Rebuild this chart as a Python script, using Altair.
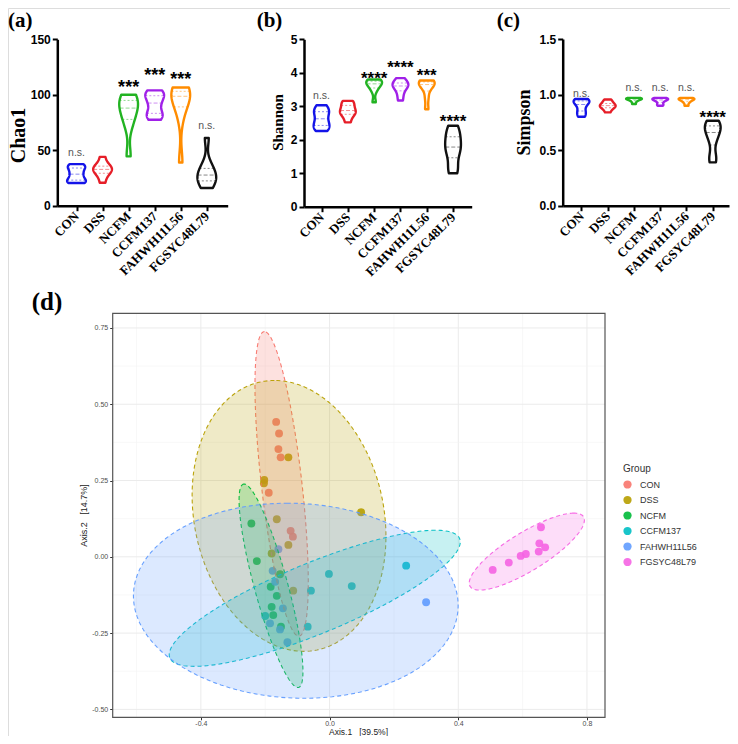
import altair as alt
import numpy as np
import pandas as pd

# ---------------- data ----------------
groups = ["CON", "DSS", "NCFM", "CCFM137", "FAHWH11L56", "FGSYC48L79"]
violin_colors = ["#1414E8", "#E61E28", "#22B322", "#A020E8", "#FF8C00", "#111111"]
pcoa_colors = ["#F8766D", "#B79F00", "#00BA38", "#00BFC4", "#619CFF", "#F564E3"]

# alpha-diversity samples (n = 8 per group)
chao1 = [
    [20.5, 21.5, 23.5, 27, 30, 33.5, 35.5, 37.5],
    [20.7, 27, 30, 32, 33.5, 35, 37.5, 44],
    [44.5, 72, 80, 86, 90, 94, 98, 100],
    [77.5, 81, 84, 90, 95, 98.5, 101.5, 104],
    [39, 80, 92, 97, 100, 102.5, 104.5, 106.5],
    [16, 20, 23, 26, 29, 32, 38, 61],
]
shannon = [
    [2.26, 2.35, 2.45, 2.55, 2.7, 2.82, 2.9, 3.03],
    [2.52, 2.7, 2.78, 2.84, 2.9, 3.0, 3.1, 3.16],
    [3.12, 3.45, 3.58, 3.64, 3.7, 3.74, 3.77, 3.8],
    [3.17, 3.35, 3.5, 3.58, 3.63, 3.68, 3.74, 3.84],
    [2.91, 3.25, 3.52, 3.62, 3.68, 3.72, 3.75, 3.77],
    [1.0, 1.2, 1.55, 1.72, 1.85, 2.05, 2.22, 2.42],
]
simpson = [
    [0.80, 0.83, 0.86, 0.90, 0.92, 0.94, 0.95, 0.96],
    [0.84, 0.87, 0.885, 0.895, 0.905, 0.915, 0.935, 0.955],
    [0.915, 0.935, 0.948, 0.955, 0.96, 0.964, 0.967, 0.97],
    [0.90, 0.915, 0.935, 0.948, 0.955, 0.96, 0.965, 0.97],
    [0.90, 0.925, 0.94, 0.95, 0.957, 0.962, 0.966, 0.97],
    [0.39, 0.45, 0.58, 0.64, 0.68, 0.71, 0.74, 0.765],
]

sig_chao1 = ["n.s.", "", "***", "***", "***", "n.s."]
sig_chao1_y = [47, None, 111, 121, 118, 71]
sig_shannon = ["n.s.", "", "****", "****", "***", "****"]
sig_shannon_y = [3.28, None, 3.96, 4.28, 4.06, 2.67]
sig_simpson = ["n.s.", "", "n.s.", "n.s.", "n.s.", "****"]
sig_simpson_y = [0.996, None, 1.048, 1.048, 1.048, 0.83]

# PCoA coordinates
pc_con_x = [-0.166, -0.157, -0.159, -0.152, -0.189, -0.121, -0.114]
pc_con_y = [0.442, 0.404, 0.353, 0.326, 0.210, 0.085, 0.066]
pc_dss_x = [-0.128, -0.203, -0.204, -0.164, 0.098, -0.128, -0.180, -0.113]
pc_dss_y = [0.326, 0.252, 0.241, 0.123, 0.146, 0.039, 0.011, -0.111]
pc_ncfm_x = [-0.243, -0.226, -0.154, -0.183, -0.164, -0.180, -0.175, -0.151]
pc_ncfm_y = [0.109, -0.014, -0.057, -0.098, -0.128, -0.164, -0.191, -0.229]
pc_ccfm_x = [-0.002, -0.058, -0.068, -0.200, 0.238, 0.069]
pc_ccfm_y = [-0.056, -0.111, -0.229, -0.194, -0.029, -0.096]
pc_fah_x = [-0.159, -0.177, -0.169, -0.145, -0.185, -0.154, -0.131, 0.300]
pc_fah_y = [0.025, -0.046, -0.082, -0.169, -0.218, -0.238, -0.280, -0.149]
pc_fgs_x = [0.507, 0.557, 0.594, 0.610, 0.650, 0.670, 0.652, 0.657]
pc_fgs_y = [-0.043, -0.019, 0.003, 0.009, 0.017, 0.031, 0.044, 0.097]

# confidence ellipses: centre, semi-axes, angle (deg)
ell_cx = [-0.149, -0.126, -0.182, -0.046, -0.105, 0.613]
ell_cy = [0.239, 0.134, -0.095, -0.136, -0.144, 0.017]
ell_a = [0.502, 0.448, 0.344, 0.491, 0.505, 0.210]
ell_b = [0.063, 0.295, 0.052, 0.115, 0.319, 0.062]
ell_ang = [96.2, 100.4, 104.4, 23.6, -3.0, 33.2]

x_major = [-0.4, 0.0, 0.4, 0.8]
x_minor = [-0.6, -0.2, 0.2, 0.6]
y_major = [-0.5, -0.25, 0.0, 0.25, 0.5, 0.75]
y_minor = [-0.375, -0.125, 0.125, 0.375, 0.625]

# ---------------- layout ----------------
W, H = 722, 728
label_expr = "[" + ",".join("'%s'" % g for g in groups) + "][datum.value]"


def violin_panel(samples, sig_text, sig_y, ydom, yrange, xdom, xrange, yticks, yfmt,
                 ytitle, tfont, tsize, title_x, title_y, half_w, bw_frac, star_size):
    xs = alt.Scale(domain=xdom, range=xrange, nice=False, zero=False)
    ys = alt.Scale(domain=ydom, range=yrange, nice=False, zero=False)
    xax = alt.Axis(orient="bottom", offset=yrange[0] - H, values=list(range(6)),
                   labelExpr=label_expr, labelAngle=315, labelAlign="right",
                   labelBaseline="middle", labelFont="Liberation Serif",
                   labelFontWeight="bold", labelFontSize=13, labelColor="black",
                   labelPadding=3, labelOverlap=False, labelFlush=False,
                   domainColor="black", domainWidth=2.5, tickColor="black",
                   tickWidth=2, tickSize=5, grid=False, title="")
    yax = alt.Axis(orient="left", offset=-xrange[0], values=yticks, format=yfmt,
                   labelFont="Liberation Sans", labelFontWeight="bold",
                   labelFontSize=12, labelColor="black", labelPadding=2,
                   labelOverlap=False, labelFlush=False, domainColor="black",
                   domainWidth=2.5, tickColor="black", tickWidth=2, tickSize=5,
                   grid=False, title=ytitle, titleFont=tfont, titleFontSize=tsize,
                   titleFontWeight="bold", titleColor="black", titleX=title_x,
                   titleY=title_y, titleAngle=270, titleAlign="center",
                   titleBaseline="middle")
    layers = []
    for i, g in enumerate(groups):
        vals = samples[i]
        lo, hi = float(min(vals)), float(max(vals))
        df = pd.DataFrame({"val": vals, "idx": i})
        base = (alt.Chart(df)
                .transform_density("val", as_=["v", "dens"], bandwidth=bw_frac * (hi - lo),
                                   extent=[lo, hi], steps=120, groupby=["idx"])
                .transform_joinaggregate(dmax="max(dens)")
                .transform_calculate(xl="datum.idx - %f*datum.dens/datum.dmax" % half_w,
                                     xr="datum.idx + %f*datum.dens/datum.dmax" % half_w))
        area = base.mark_area(orient="horizontal", fill="white", stroke=violin_colors[i],
                              strokeWidth=2.4, strokeJoin="round").encode(
            y=alt.Y("v:Q", scale=ys, axis=yax),
            x=alt.X("xl:Q", scale=xs, axis=xax),
            x2="xr:Q")
        layers.append(area)
        qs = np.percentile(vals, [25, 50, 75])
        for k, q in enumerate(qs):
            rule = (base.transform_calculate(dq="abs(datum.v - %f)" % q)
                    .transform_joinaggregate(mq="min(dq)")
                    .transform_filter("datum.dq <= datum.mq")
                    .mark_rule(color=violin_colors[i], opacity=0.5, strokeWidth=1,
                               strokeDash=[4, 2] if k == 1 else [2, 2])
                    .encode(y=alt.Y("v:Q", scale=ys, axis=yax),
                            x=alt.X("xl:Q", scale=xs, axis=xax), x2="xr:Q"))
            layers.append(rule)
    sig_df = pd.DataFrame({"idx": list(range(6)), "lab": sig_text, "sy": sig_y})
    sig_base = alt.Chart(sig_df)
    ns = sig_base.transform_filter("datum.lab == 'n.s.'").mark_text(
        font="Liberation Sans", fontSize=10.5, color="#555555", dy=-1).encode(
        x=alt.X("idx:Q", scale=xs, axis=xax), y=alt.Y("sy:Q", scale=ys, axis=yax),
        text="lab:N")
    st = sig_base.transform_filter("indexof(datum.lab, '*') >= 0").mark_text(
        font="Liberation Sans", fontSize=star_size, fontWeight="bold", color="black",
        dy=5).encode(
        x=alt.X("idx:Q", scale=xs, axis=xax), y=alt.Y("sy:Q", scale=ys, axis=yax),
        text="lab:N")
    layers += [ns, st]
    return alt.layer(*layers)


panel_a = violin_panel(chao1, sig_chao1, sig_chao1_y, [0, 150], [197.7, 31.3],
                       [-0.737, 5.802], [49.3, 219.7], [0, 50, 100, 150], "d",
                       "Chao1", "Liberation Serif", 20, -39.3, 127, 0.36, 0.16, 18)
panel_b = violin_panel(shannon, sig_shannon, sig_shannon_y, [0, 5], [198.7, 31.3],
                       [-0.667, 5.709], [296, 463.7], [0, 1, 2, 3, 4, 5], "d",
                       "Shannon", "Liberation Sans Narrow", 15, -27, 114, 0.30, 0.16, 17)
panel_c = violin_panel(simpson, sig_simpson, sig_simpson_y, [0, 1.5], [197.7, 31],
                       [-0.716, 5.619], [554.7, 721], [0, 0.5, 1.0, 1.5], ".1f",
                       "Simpson", "Liberation Serif", 18, -38.7, 114, 0.30, 0.16, 17)

# ---------------- panel d ----------------
xdom_d = [-0.674, 0.856]
ydom_d = [-0.526, 0.798]
xs_d = alt.Scale(domain=xdom_d, range=[104.7, 597], nice=False, zero=False)
ys_d = alt.Scale(domain=ydom_d, range=[709.3, 305.3], nice=False, zero=False)
minus_fix = "replace(format(datum.value, '%s'), '\u2212', '-')"
gap = "\u00a0\u00a0\u00a0"
xax_d = alt.Axis(orient="bottom", offset=709.3 - H, values=x_major,
                 labelExpr=minus_fix % ".1f", domain=False, grid=False,
                 tickColor="#333333", tickSize=2.5, tickWidth=1, labelFontSize=7,
                 labelColor="#4D4D4D", labelFont="Liberation Sans", labelPadding=0,
                 labelFlush=False, labelOverlap=False,
                 title="Axis.1" + gap + "[39.5%]", titleFont="Liberation Sans",
                 titleFontSize=8.5, titleFontWeight="normal", titleColor="#222222",
                 titleX=350, titleY=16.8, titleAlign="center",
                 titleBaseline="alphabetic")
yax_d = alt.Axis(orient="left", offset=-104.7, values=y_major,
                 labelExpr=minus_fix % ".2f", domain=False, grid=False,
                 tickColor="#333333", tickSize=3, tickWidth=1, labelFontSize=7,
                 labelColor="#4D4D4D", labelFont="Liberation Sans", labelPadding=2,
                 labelFlush=False, labelOverlap=False,
                 title="Axis.2" + gap + "[14.7%]", titleFont="Liberation Sans",
                 titleFontSize=9, titleFontWeight="normal", titleColor="#222222",
                 titleX=-29.7, titleY=507, titleAngle=270, titleAlign="center",
                 titleBaseline="middle")


def d_enc(xf, yf):
    return dict(x=alt.X(xf, scale=xs_d, axis=xax_d), y=alt.Y(yf, scale=ys_d, axis=yax_d))


d_layers = []
for gx, col, wdt in [(x_minor, "#F3F3F3", 0.6), (x_major, "#EBEBEB", 1.0)]:
    gdf = pd.DataFrame({"gx": gx, "y0": ydom_d[0], "y1": ydom_d[1]})
    d_layers.append(alt.Chart(gdf).mark_rule(color=col, strokeWidth=wdt).encode(
        **d_enc("gx:Q", "y0:Q"), y2="y1:Q"))
for gy, col, wdt in [(y_minor, "#F3F3F3", 0.6), (y_major, "#EBEBEB", 1.0)]:
    gdf = pd.DataFrame({"gy": gy, "x0": xdom_d[0], "x1": xdom_d[1]})
    d_layers.append(alt.Chart(gdf).mark_rule(color=col, strokeWidth=wdt).encode(
        **d_enc("x0:Q", "gy:Q"), x2="x1:Q"))

pc_x = [pc_con_x, pc_dss_x, pc_ncfm_x, pc_ccfm_x, pc_fah_x, pc_fgs_x]
pc_y = [pc_con_y, pc_dss_y, pc_ncfm_y, pc_ccfm_y, pc_fah_y, pc_fgs_y]
pts = pd.concat([pd.DataFrame({"px": pc_x[i], "py": pc_y[i], "group": g})
                 for i, g in enumerate(groups)], ignore_index=True)
legend = alt.Legend(title="Group", orient="none", legendX=615, legendY=456,
                    titleFont="Liberation Sans", titleFontSize=10,
                    titleFontWeight="normal", titleColor="#333333", titlePadding=6,
                    labelFont="Liberation Sans", labelFontSize=9, labelColor="#333333",
                    symbolType="circle", symbolSize=68, symbolOpacity=0.9,
                    symbolStrokeWidth=0, rowPadding=5.5, labelOffset=8, padding=0)
d_layers.append(alt.Chart(pts).mark_circle(size=62, opacity=0.9).encode(
    **d_enc("px:Q", "py:Q"),
    color=alt.Color("group:N", scale=alt.Scale(domain=groups, range=pcoa_colors),
                    legend=legend)))


def ellipse_band(cx, cy, a, b, ang, n=90):
    t = np.deg2rad(ang)
    c, s = np.cos(t), np.sin(t)
    mxx = a * a * c * c + b * b * s * s
    myy = a * a * s * s + b * b * c * c
    mxy = (a * a - b * b) * c * s
    det = mxx * myy - mxy * mxy
    p, q, r = myy / det, -mxy / det, mxx / det
    ymax = np.sqrt(myy)
    dy = ymax * np.cos(np.linspace(np.pi, 0, n))
    disc = np.clip(q * q * dy * dy - p * (r * dy * dy - 1), 0, None)
    xl = (-q * dy - np.sqrt(disc)) / p
    xr = (-q * dy + np.sqrt(disc)) / p
    return pd.DataFrame({"ey": cy + dy, "exl": cx + xl, "exr": cx + xr})


for i, g in enumerate(groups):
    edf = ellipse_band(ell_cx[i], ell_cy[i], ell_a[i], ell_b[i], ell_ang[i])
    d_layers.append(alt.Chart(edf).mark_area(
        orient="horizontal", fill=pcoa_colors[i], fillOpacity=0.22,
        stroke=pcoa_colors[i], strokeOpacity=0.95, strokeWidth=1.1,
        strokeDash=[4, 3]).encode(**d_enc("exl:Q", "ey:Q"), x2="exr:Q"))

bdf = pd.DataFrame({"x0": [xdom_d[0]], "x1": [xdom_d[1]], "y0": [ydom_d[0]], "y1": [ydom_d[1]]})
d_layers.append(alt.Chart(bdf).mark_rect(fillOpacity=0, stroke="#555555",
                                         strokeWidth=1.2).encode(
    **d_enc("x0:Q", "y0:Q"), x2="x1:Q", y2="y1:Q"))
panel_d = alt.layer(*d_layers)

# ---------------- panel letters ----------------
one = pd.DataFrame({"k": [0]})
letters = []
for txt, px, py, fs in [("(a)", 0, 19, 21), ("(b)", 248.7, 19, 21),
                        ("(c)", 488.7, 19, 21), ("(d)", 23.7, 302, 25)]:
    letters.append(alt.Chart(one).mark_text(
        font="Liberation Serif", fontWeight="bold", fontSize=fs, align="left",
        baseline="alphabetic", color="black").encode(
        x=alt.value(px), y=alt.value(py), text=alt.value(txt)))

chart = (alt.layer(panel_a, panel_b, panel_c, panel_d, *letters)
         .resolve_scale(x="independent", y="independent")
         .properties(width=W, height=H, padding=0,
                     autosize=alt.AutoSizeParams(type="none"))
         .configure_view(strokeWidth=0)
         .configure(font="Liberation Sans"))

chart.save("out.html", embed_options={"renderer": "svg", "actions": False})
